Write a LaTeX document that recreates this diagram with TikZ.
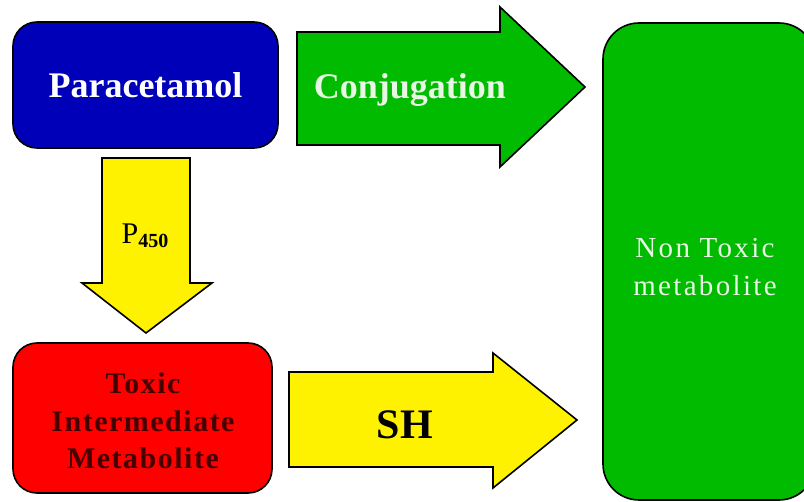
\documentclass[tikz,border=0pt]{standalone}
\usepackage{fontspec}
\setmainfont{Liberation Serif}
\definecolor{darkblue}{RGB}{0,0,184}
\definecolor{leafgreen}{RGB}{0,187,0}
\definecolor{paletext}{RGB}{232,246,228}
\definecolor{maroon}{RGB}{70,0,0}
\tikzset{
    box/.style={draw=black, line width=1.6pt, rounded corners=24pt, align=center, inner sep=0pt},
    blockarrow/.style={draw=black, line width=1.6pt, fill=yellow, line join=miter}
}
\begin{document}
\begin{tikzpicture}[x=1pt, y=-1pt]
    \useasboundingbox (0,0) rectangle (804,502);

    % boxes
    \node[box, fill=darkblue, minimum width=265pt, minimum height=126pt,
          font=\fontsize{36}{40}\selectfont\bfseries, text=white] (para) at (145.5,85) {Paracetamol};
    \node[box, fill=red, minimum width=259pt, minimum height=150pt] (toxic) at (142.5,418) {};
    \node[align=center, inner sep=0pt, text=maroon,
          font=\fontsize{30}{37.5}\selectfont\bfseries\addfontfeatures{LetterSpace=5}] (toxictext) at (143,421)
        {Toxic\\Intermediate\\Metabolite};
    \node[box, fill=leafgreen, rounded corners=36pt, minimum width=212pt, minimum height=477pt] (nontoxic) at (709,261.5) {};
    \node[align=center, inner sep=0pt, text=paletext,
          font=\fontsize{29}{38}\selectfont\addfontfeatures{LetterSpace=8}] (nontoxictext) at (705,267)
        {Non Toxic\\metabolite};

    % arrows
    \draw[blockarrow, fill=leafgreen] (297,32) -- (500,32) -- (500,7) -- (585,87) -- (500,167) -- (500,145) -- (297,145) -- cycle;
    \node[text=paletext, font=\fontsize{36}{40}\selectfont\bfseries] (conj) at (410,90) {Conjugation};

    \draw[blockarrow] (102,158) -- (190,158) -- (190,283) -- (212,283) -- (146,333) -- (82,283) -- (102,283) -- cycle;
    \node (p450) at (145,236) {\fontsize{30}{34}\selectfont P\raisebox{-4pt}{\fontsize{20}{22}\selectfont\bfseries 450}};

    \draw[blockarrow] (289,372) -- (493,372) -- (493,353) -- (577,420) -- (493,488) -- (493,467) -- (289,467) -- cycle;
    \node[font=\fontsize{42}{46}\selectfont\bfseries] (sh) at (405,425) {SH};

\end{tikzpicture}
\end{document}
